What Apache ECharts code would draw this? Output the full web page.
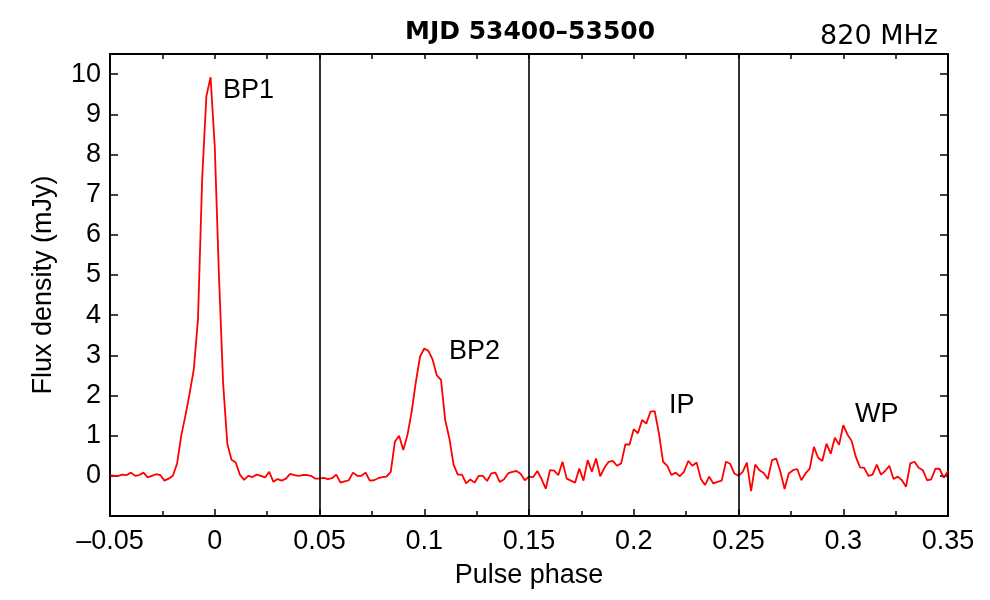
<!DOCTYPE html>
<html><head><meta charset="utf-8">
<script src="https://cdn.jsdelivr.net/npm/echarts@6/dist/echarts.min.js"></script>
<style>html,body{margin:0;padding:0;background:#fff}#c{width:990px;height:600px}</style>
</head><body><div id="c"></div>
<script>
const phaseStart = -0.05;
const phaseStep = 0.002;
const flux = [
 0.02,0.0,0.0,0.03,0.02,0.08,0.0,0.02,0.08,-0.04,
 0.0,0.04,0.02,-0.12,-0.07,0.0,0.3,1.0,1.5,2.05,
 2.65,3.9,7.4,9.45,9.92,8.2,5.0,2.3,0.8,0.4,
 0.33,0.03,-0.1,0.0,-0.03,0.03,0.0,-0.04,0.1,-0.15,
 -0.08,-0.12,-0.07,0.05,0.02,0.0,0.02,0.02,0.0,-0.07,
 -0.07,-0.05,-0.08,-0.06,0.03,-0.17,-0.14,-0.11,0.08,0.0,
 0.0,0.08,-0.12,-0.11,-0.06,-0.03,-0.02,0.1,0.85,1.0,
 0.64,1.02,1.6,2.34,2.97,3.17,3.11,2.89,2.5,2.39,
 1.39,0.93,0.28,0.03,0.03,-0.19,-0.09,-0.17,0.0,0.0,
 -0.13,0.06,0.08,-0.15,-0.09,0.06,0.1,0.12,0.05,-0.11,
 -0.02,-0.03,0.12,-0.08,-0.32,0.14,0.13,0.02,0.35,-0.07,
 -0.12,-0.17,0.18,-0.12,0.39,0.1,0.43,-0.01,0.2,0.35,
 0.37,0.25,0.31,0.78,0.78,1.16,1.06,1.39,1.3,1.6,
 1.61,1.06,0.35,0.25,0.02,0.08,-0.01,0.1,0.37,0.25,
 0.33,-0.07,-0.23,-0.02,-0.19,-0.15,-0.12,0.35,0.3,0.06,
 0.0,0.1,0.33,-0.38,0.28,0.14,0.07,-0.08,0.39,0.43,
 0.1,-0.33,0.06,0.14,0.17,-0.11,0.06,0.18,0.72,0.45,
 0.37,0.8,0.55,0.95,0.77,1.26,1.03,0.87,0.47,0.21,
 0.2,0.0,0.03,0.28,0.03,0.12,0.25,-0.08,-0.02,-0.11,
 -0.27,0.31,0.35,0.2,0.14,-0.11,-0.09,0.18,0.17,-0.05,
 0.12
];
const dividerPhases = [0.05, 0.15, 0.25];
const peakNames = ['BP1', 'BP2', 'IP', 'WP'];
const peakLabelPhase = [0.0039, 0.1118, 0.2168, 0.3056];
const peakLabelFlux = [9.58, 3.09, 1.75, 1.52];
const titleText = 'MJD 53400\u201353500';
const freqText = '820 MHz';
const xTitle = 'Pulse phase';
const yTitle = 'Flux density (mJy)';

const points = flux.map((v, i) => [+(phaseStart + i * phaseStep).toFixed(4), v]);
const FONT = '"Liberation Sans", Arial, Helvetica, sans-serif';
const FS = 27;

function fmtX(v) {
  const r = Math.round(v * 1000) / 1000;
  return (r < 0 ? '\u2013' : '') + String(Math.abs(r));
}

const chart = echarts.init(document.getElementById('c'), null, {renderer: 'canvas'});
const axisLine = {show: true, onZero: false, lineStyle: {color: '#000', width: 2}};
chart.setOption({
  animation: false,
  backgroundColor: '#fff',
  grid: {left: 110, right: 42, top: 54, bottom: 84, containLabel: false},
  xAxis: [{
    type: 'value', position: 'bottom', min: -0.05, max: 0.35, interval: 0.05,
    axisLine: axisLine,
    axisTick: {show: true, inside: true, length: 7, lineStyle: {color: '#000', width: 1.5}},
    minorTick: {show: true, splitNumber: 2, length: 5, lineStyle: {color: '#000', width: 1.5}},
    splitLine: {show: false}, minorSplitLine: {show: false},
    axisLabel: {color: '#000', fontFamily: FONT, fontSize: FS, margin: 12, formatter: fmtX},
    name: xTitle, nameLocation: 'middle', nameGap: 46,
    nameTextStyle: {color: '#000', fontFamily: FONT, fontSize: FS}
  }, {
    type: 'value', position: 'top', min: -0.05, max: 0.35, interval: 0.05,
    axisLine: axisLine,
    axisTick: {show: true, inside: true, length: 5, lineStyle: {color: '#000', width: 1.5}},
    minorTick: {show: true, splitNumber: 2, length: 5, lineStyle: {color: '#000', width: 1.5}},
    splitLine: {show: false}, axisLabel: {show: false}
  }],
  yAxis: [{
    type: 'value', position: 'left', min: -1, max: 10.5, interval: 1,
    axisLine: axisLine,
    axisTick: {show: true, inside: true, length: 8, lineStyle: {color: '#000', width: 1.5}},
    splitLine: {show: false},
    axisLabel: {color: '#000', fontFamily: FONT, fontSize: FS, margin: 9,
      formatter: v => (v < 0 || v > 10) ? '' : String(v)},
    name: yTitle, nameLocation: 'middle', nameGap: 53, nameRotate: 90,
    nameTextStyle: {color: '#000', fontFamily: FONT, fontSize: FS}
  }, {
    type: 'value', position: 'right', min: -1, max: 10.5, interval: 1,
    axisLine: axisLine,
    axisTick: {show: true, inside: true, length: 8, lineStyle: {color: '#000', width: 1.5}},
    splitLine: {show: false}, axisLabel: {show: false}
  }],
  series: [{
    type: 'line', xAxisIndex: 0, yAxisIndex: 0, data: points,
    showSymbol: false, symbol: 'none',
    lineStyle: {color: '#ff0000', width: 1.8},
    z: 3,
    markLine: {
      silent: true, symbol: 'none', label: {show: false},
      lineStyle: {color: '#000', width: 1.6, type: 'solid'},
      data: dividerPhases.map(p => ({xAxis: p}))
    },
    markPoint: {
      silent: true, symbol: 'circle', symbolSize: 0,
      itemStyle: {color: 'transparent'},
      label: {show: true, position: [0, 0], align: 'left', verticalAlign: 'middle',
        color: '#000', fontFamily: FONT, fontSize: FS, formatter: p => p.name},
      data: peakNames.map((n, i) => ({name: n, coord: [peakLabelPhase[i], peakLabelFlux[i]]}))
    }
  }],
  graphic: [{
    type: 'text', left: 405, top: 20,
    style: {text: titleText, fill: '#000', font: 'bold 25px "DejaVu Sans", sans-serif'}
  }, {
    type: 'text', right: 52, top: 23,
    style: {text: freqText, fill: '#000', font: '27px "DejaVu Sans", sans-serif'}
  }]
});
</script>
</body></html>
